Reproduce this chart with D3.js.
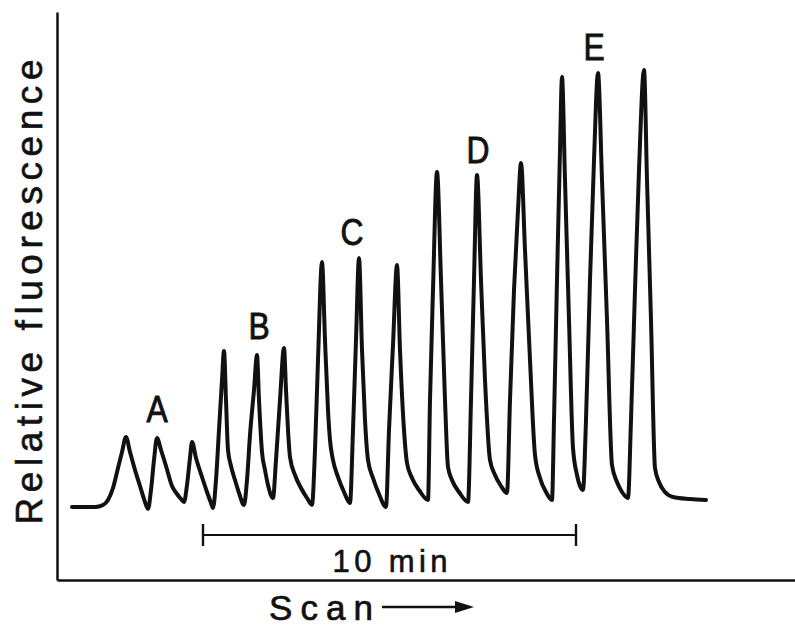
<!DOCTYPE html>
<html>
<head>
<meta charset="utf-8">
<script src="https://cdn.jsdelivr.net/npm/d3@7/dist/d3.min.js"></script>
<style>
  html, body { margin: 0; padding: 0; background: #fff; }
  svg { display: block; }
  text { font-family: "Liberation Sans", Arial, sans-serif; fill: #111; }
</style>
</head>
<body>
<svg id="chart" width="795" height="626"></svg>
<script>
// Scan position (arbitrary units) and relative fluorescence
const scanPos = [3, 7.6, 9.2, 10.2, 11.2, 12.2, 13, 13.8, 14.6, 15.6, 16.6, 17.4, 18.2,
  18.8, 19.4, 20, 20.8, 21.8, 23, 24, 24.8, 25.4,
  26, 26.6, 27, 27.8, 29, 30, 30.8, 31.2,
  31.8, 32.4, 33, 33.4, 33.8, 34.2, 34.8, 35.6, 36.4, 37.4,
  38, 38.6, 39.4, 40, 40.4, 41, 41.6, 42.2, 43.2,
  43.8, 44.6, 45.4, 45.8, 46.2, 46.6, 47.6, 48.8, 50, 51,
  51.6, 52.2, 53, 53.6, 54.2, 54.6, 55.2, 56.2, 57.4, 58.6,
  59.2, 59.8, 60.4, 61, 61.6, 62.2, 63.2, 64.4, 65.8,
  66.4, 67.2, 68, 68.6, 69.4, 70, 71, 72.4, 74.2,
  74.6, 75.2, 76, 76.8, 77.6, 78.2, 79, 80.4, 82.2,
  82.8, 83.4, 84, 84.8, 85.6, 86.6, 87.6, 88.8, 90,
  90.6, 91.4, 92.2, 92.8, 93.6, 94.6, 95.6, 96.6, 97.8, 99,
  99.4, 100, 100.6, 101, 101.6, 102.4, 103.2, 104, 105.2,
  105.8, 106.6, 107.4, 108.2, 109, 110, 111, 112, 113, 114.2,
  114.8, 115.6, 116.4, 117.4, 118, 118.8, 119.6, 120.4, 121.6, 123.2, 126.6, 129.8];
const fluorescence = [0, 0, 0.4, 1.4, 3.8, 7.8, 11, 14, 11, 7.4, 4.2, 1.6, -0.4,
  3.4, 9.4, 13.8, 11.4, 8.2, 4.2, 2.6, 1.6, 1,
  4.4, 9.8, 13, 9.8, 6, 3, 0.8, -0.2,
  5.4, 15.4, 25.4, 31.2, 21.4, 11.4, 8.2, 5.4, 2.8, 0.4,
  5.4, 14.4, 23.4, 30.4, 21.4, 11, 7.4, 4.4, 1.8,
  9.4, 21.4, 31.8, 23.4, 15.4, 10, 6.4, 3.8, 1.8, 0.4,
  11.4, 29.4, 49, 33.4, 19.4, 13.4, 9.4, 6, 3, 0.8,
  15.4, 33.4, 49.8, 31.4, 17.4, 9.4, 5.8, 2.6, 0,
  15.4, 32.4, 48.4, 31.4, 15.4, 8.8, 5.8, 3.4, 1.4,
  21.4, 43.4, 67, 45.4, 21.4, 8, 5.4, 3, 1,
  21.4, 45.4, 66.4, 45.4, 25.4, 9.4, 6.4, 4.2, 2.8,
  21.4, 43.4, 59.4, 68.8, 51.4, 29.4, 10.4, 5.8, 3, 1.4,
  17.4, 45.4, 71.4, 86, 65.4, 37.4, 11.8, 6.4, 3.4,
  17.4, 45.4, 69.4, 86.8, 65.4, 37.4, 8.4, 5, 3, 1.8,
  17.4, 43.4, 67.4, 87.4, 65.4, 37.4, 7.8, 5, 3, 2, 1.6, 1.4];

// Peak group labels
const labelNames = ["A", "B", "C", "D", "E"];
const labelPos = [20, 40.4, 59, 84.2, 107.4];
const labelLevel = [17, 33.6, 52.4, 68.8, 89.4];

// 10 min scale bar
const barStart = 29.2;
const barEnd = 103.8;
const barLevel = -5.6;
const barText = "10 min";
const barTextLevel = -13;

const xTitle = "Scan";
const yTitle = "Relative fluorescence";

const svg = d3.select("#chart");
const x = d3.scaleLinear().domain([0, 147.6]).range([57, 795]);
const y = d3.scaleLinear().domain([-14.6, 99]).range([580, 12]);

const ink = "#111";

// axes (no ticks)
svg.append("g").attr("transform", `translate(0,${y.range()[0]})`)
  .call(d3.axisBottom(x).tickValues([]).tickSizeOuter(0))
  .call(g => g.select(".domain").attr("stroke", ink).attr("stroke-width", 2.5));
svg.append("g").attr("transform", `translate(${x.range()[0]},0)`)
  .call(d3.axisLeft(y).tickValues([]).tickSizeOuter(0))
  .call(g => g.select(".domain").attr("stroke", ink).attr("stroke-width", 2.5));

// trace
const pts = scanPos.map((d, i) => [d, fluorescence[i]]);
svg.append("path")
  .datum(pts)
  .attr("fill", "none")
  .attr("stroke", ink)
  .attr("stroke-width", 4)
  .attr("stroke-linejoin", "round")
  .attr("stroke-linecap", "round")
  .attr("d", d3.line().x(d => x(d[0])).y(d => y(d[1])).curve(d3.curveMonotoneX));

// peak labels
labelNames.forEach((n, i) => {
  svg.append("text")
    .attr("transform", `translate(${x(labelPos[i])},${y(labelLevel[i])}) scale(0.86,1)`)
    .attr("text-anchor", "middle")
    .attr("font-size", 37)
    .attr("stroke", ink).attr("stroke-width", 0.9)
    .text(n);
});

// scale bar
const by = y(barLevel);
svg.append("line").attr("x1", x(barStart)).attr("x2", x(barEnd)).attr("y1", by).attr("y2", by)
  .attr("stroke", ink).attr("stroke-width", 2.2);
[barStart, barEnd].forEach(v => {
  svg.append("line").attr("x1", x(v)).attr("x2", x(v)).attr("y1", by - 11).attr("y2", by + 11)
    .attr("stroke", ink).attr("stroke-width", 2.4);
});
svg.append("text")
  .attr("x", x((barStart + barEnd) / 2) - 57).attr("y", y(barTextLevel))
  .attr("font-size", 31)
  .attr("stroke", ink).attr("stroke-width", 0.6)
  .attr("textLength", 115).attr("lengthAdjust", "spacing")
  .text(barText);

// y title
svg.append("text")
  .attr("transform", "translate(42,292) rotate(-90)")
  .attr("text-anchor", "middle")
  .attr("font-size", 37)
  .attr("stroke", ink).attr("stroke-width", 0.6)
  .attr("textLength", 465).attr("lengthAdjust", "spacing")
  .text(yTitle);

// x title with arrow
svg.append("text")
  .attr("x", 269).attr("y", 620)
  .attr("font-size", 35)
  .attr("stroke", ink).attr("stroke-width", 0.7)
  .attr("textLength", 104).attr("lengthAdjust", "spacing")
  .text(xTitle);
svg.append("line").attr("x1", 382).attr("x2", 460).attr("y1", 607).attr("y2", 607)
  .attr("stroke", ink).attr("stroke-width", 2.4);
svg.append("path").attr("d", "M455,601 L474,607 L455,613 Z").attr("fill", ink);
</script>
</body>
</html>
